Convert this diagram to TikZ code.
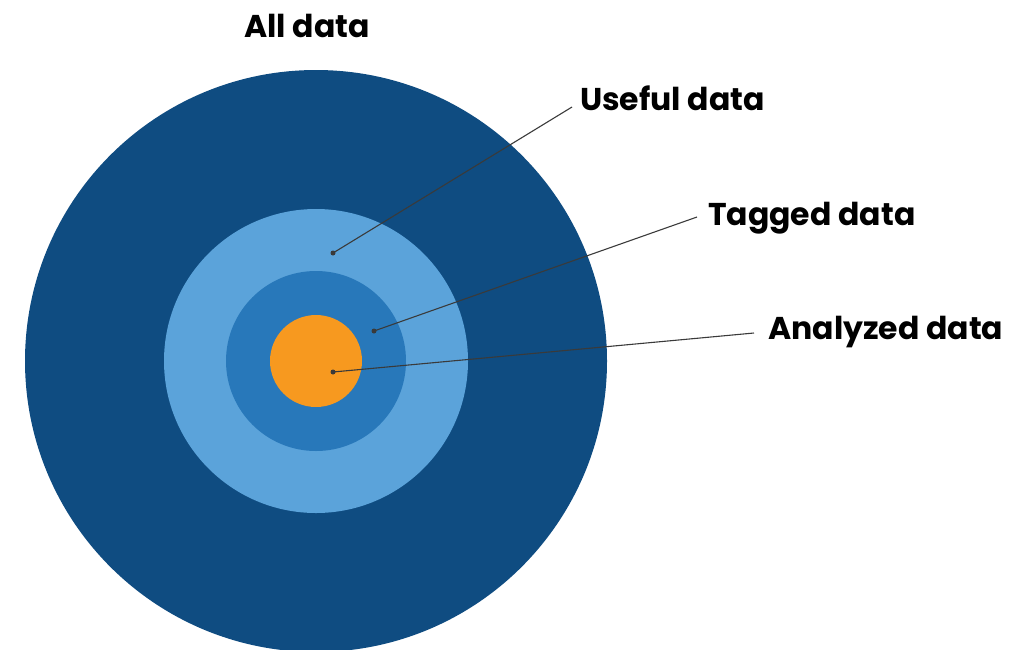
\documentclass[tikz,border=0pt]{standalone}
\usepackage{fontspec}
\setmainfont{Poppins}
\definecolor{darkblue}{HTML}{0F4C81}
\definecolor{lightblue}{HTML}{5BA3DA}
\definecolor{midblue}{HTML}{2878BA}
\definecolor{orangec}{HTML}{F7991F}
\definecolor{linec}{HTML}{3A3A3A}
\begin{document}
\begin{tikzpicture}[x=1pt,y=-1pt,
  ring/.style={circle,inner sep=0pt,outer sep=0pt,minimum size=#1},
  lbl/.style={anchor=base west,inner sep=0pt,font=\fontsize{31.5}{36}\selectfont\bfseries,text=black},
  leader/.style={draw=linec,line width=1.1pt},
  dotc/.style={fill=linec}]
\useasboundingbox (0,0) rectangle (1033,649);
\begin{scope}
\clip (0,0) rectangle (1033,649);
\node[ring=582pt,fill=darkblue] (all) at (316,361) {};
\node[ring=304pt,fill=lightblue] (useful) at (316,361) {};
\node[ring=180pt,fill=midblue] (tagged) at (316,361) {};
\node[ring=92pt,fill=orangec] (analyzed) at (316,361) {};
\end{scope}
\node[anchor=base,inner sep=0pt,font=\fontsize{31.5}{36}\selectfont\bfseries] (lall) at (307,37) {All data};
\node[lbl] (luseful) at (580,110) {Useful data};
\node[lbl] (ltagged) at (708,225) {Tagged data};
\node[lbl] (lanalyzed) at (768,339) {Analyzed data};
\coordinate (d1) at (333,253);
\coordinate (d2) at (374,331);
\coordinate (d3) at (333,372);
\coordinate (e1) at (572,107);
\coordinate (e2) at (697,217);
\coordinate (e3) at (754,333);
\draw[leader] (d1) -- (e1);
\draw[leader] (d2) -- (e2);
\draw[leader] (d3) -- (e3);
\fill[dotc] (d1) circle (2.5);
\fill[dotc] (d2) circle (2.5);
\fill[dotc] (d3) circle (2.5);
\end{tikzpicture}
\end{document}
